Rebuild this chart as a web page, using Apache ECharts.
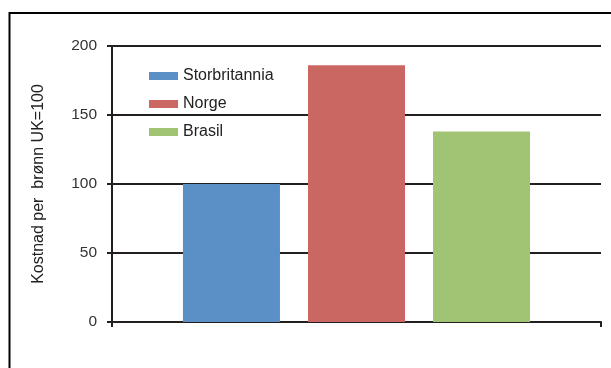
<!DOCTYPE html>
<html>
<head>
<meta charset="utf-8">
<script src="https://cdn.jsdelivr.net/npm/echarts@6/dist/echarts.min.js"></script>
<style>
  html, body { margin: 0; padding: 0; background: #fff; }
  #chart { width: 611px; height: 368px; }
</style>
</head>
<body>
<div id="chart"></div>
<script>
// Cost per well, indexed so that UK = 100
const categories = [''];
const seriesNames = ['Storbritannia', 'Norge', 'Brasil'];
const seriesValues = [[100], [186], [138]];
const seriesColors = ['#5B90C6', '#CB6763', '#A1C474'];
const yTicks = { min: 0, max: 200, interval: 50 };
const yAxisTitle = 'Kostnad per  brønn UK=100';

const ink = '#231f20';
const font = '"Liberation Sans", Arial, sans-serif';

const chart = echarts.init(document.getElementById('chart'), null, { renderer: 'canvas' });

chart.setOption({
  animation: false,
  backgroundColor: '#fff',
  grid: { left: 112, right: 10, top: 46, bottom: 46, containLabel: false },
  legend: {
    orient: 'vertical',
    left: 149,
    top: 68,
    padding: 0,
    itemWidth: 29,
    itemHeight: 8,
    itemGap: 12,
    icon: 'rect',
    textStyle: { fontFamily: font, fontSize: 16, color: '#222', lineHeight: 16 },
    data: seriesNames
  },
  xAxis: {
    type: 'category',
    data: categories,
    axisLine: { lineStyle: { color: ink, width: 2 } },
    axisTick: { show: true, length: 5, lineStyle: { color: ink, width: 2 } },
    axisLabel: { show: false }
  },
  yAxis: {
    type: 'value',
    min: yTicks.min,
    max: yTicks.max,
    interval: yTicks.interval,
    name: yAxisTitle,
    nameLocation: 'middle',
    nameRotate: 90,
    nameGap: 65,
    nameTextStyle: { fontFamily: font, fontSize: 16, color: '#222' },
    axisLine: { show: true, lineStyle: { color: ink, width: 2 } },
    axisTick: { show: true, length: 5, lineStyle: { color: ink, width: 2 } },
    axisLabel: { margin: 15, fontFamily: font, fontSize: 15.5, color: '#333' },
    splitLine: { show: true, lineStyle: { color: ink, width: 2 } }
  },
  series: seriesNames.map((name, i) => ({
    name: name,
    type: 'bar',
    data: seriesValues[i],
    barWidth: 97,
    barGap: '28.9%',
    itemStyle: { color: seriesColors[i] }
  })),
  graphic: [{
    type: 'polyline',
    silent: true,
    shape: { points: [[9.5, 370], [9.5, 13], [615, 13]] },
    style: { stroke: '#000', lineWidth: 2, fill: null }
  }]
});
</script>
</body>
</html>
